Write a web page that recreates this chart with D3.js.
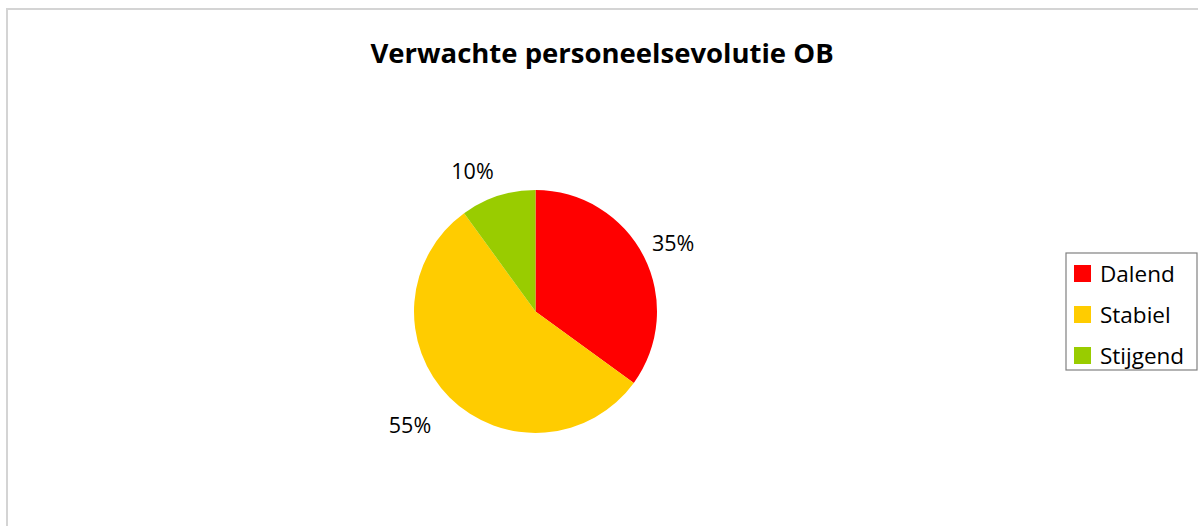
<!DOCTYPE html>
<html>
<head>
<meta charset="utf-8">
<script src="https://cdn.jsdelivr.net/npm/d3@7"></script>
<style>
  html, body { margin: 0; padding: 0; background: #ffffff; }
  svg { display: block; }
  text { font-family: "Open Sans", "Noto Sans", sans-serif; fill: #000; }
</style>
</head>
<body>
<svg id="chart" width="1198" height="526"></svg>
<script>
// Expected staff evolution, share of respondents
const categories = ["Dalend", "Stabiel", "Stijgend"];
const shares = [35, 55, 10];
const sliceColors = ["#FF0000", "#FFCC00", "#99CC00"];
const chartTitle = "Verwachte personeelsevolutie OB";

const svg = d3.select("#chart");
const W = 1198, H = 526;

// chart frame
svg.append("rect")
  .attr("x", 7).attr("y", 9)
  .attr("width", W - 7 + 2).attr("height", H)
  .attr("fill", "#fff")
  .attr("stroke", "#d4d4d4").attr("stroke-width", 2);

svg.append("text")
  .attr("x", 602).attr("y", 63)
  .attr("text-anchor", "middle")
  .attr("font-size", 27.5).attr("font-weight", "bold")
  .text(chartTitle);

const data = categories.map((c, i) => ({ name: c, value: shares[i], color: sliceColors[i] }));

const color = d3.scaleOrdinal().domain(categories).range(sliceColors);

const cx = 535.5, cy = 311.5, r = 121.5;
const pie = d3.pie().value(d => d.value).sort(null);
const arcs = pie(data);
const arc = d3.arc().innerRadius(0).outerRadius(r);

const g = svg.append("g").attr("transform", `translate(${cx},${cy})`);
g.selectAll("path.slice")
  .data(arcs)
  .join("path")
  .attr("class", "slice")
  .attr("d", arc)
  .attr("fill", d => color(d.data.name));

// percentage labels just outside the rim, the label box sitting off the slice's mid-point
const labelHalfW = 20.5, labelHalfH = 9;
// some labels sit a little further out from the rim
const extraGap = { "Stabiel": 17, "Stijgend": 6 };
g.selectAll("text.pct")
  .data(arcs)
  .join("text")
  .attr("class", "pct")
  .attr("transform", d => {
    const rr = r + 10 + (extraGap[d.data.name] || 0);
    const [x, y] = d3.arc().innerRadius(rr).outerRadius(rr).centroid(d);
    const lx = x + Math.sign(x) * labelHalfW;
    const ly = y + Math.sign(y) * labelHalfH;
    return `translate(${lx},${ly})`;
  })
  .attr("text-anchor", "middle")
  .attr("dy", "0.36em")
  .attr("font-size", 21.5)
  .text(d => d.data.value + "%");

// legend
const legend = svg.append("g").attr("transform", "translate(1066,253)");
legend.append("rect")
  .attr("x", 0).attr("y", 0)
  .attr("width", 131).attr("height", 117)
  .attr("fill", "#fff").attr("stroke", "#808080").attr("stroke-width", 1.2);

const item = legend.selectAll("g.item")
  .data(data)
  .join("g")
  .attr("class", "item")
  .attr("transform", (d, i) => `translate(0,${21 + i * 41})`);
item.append("rect")
  .attr("x", 8).attr("y", -9)
  .attr("width", 17).attr("height", 17)
  .attr("fill", d => color(d.name));
item.append("text")
  .attr("x", 34).attr("y", 0)
  .attr("dy", "0.36em")
  .attr("font-size", 22.5)
  .text(d => d.name);
</script>
</body>
</html>
